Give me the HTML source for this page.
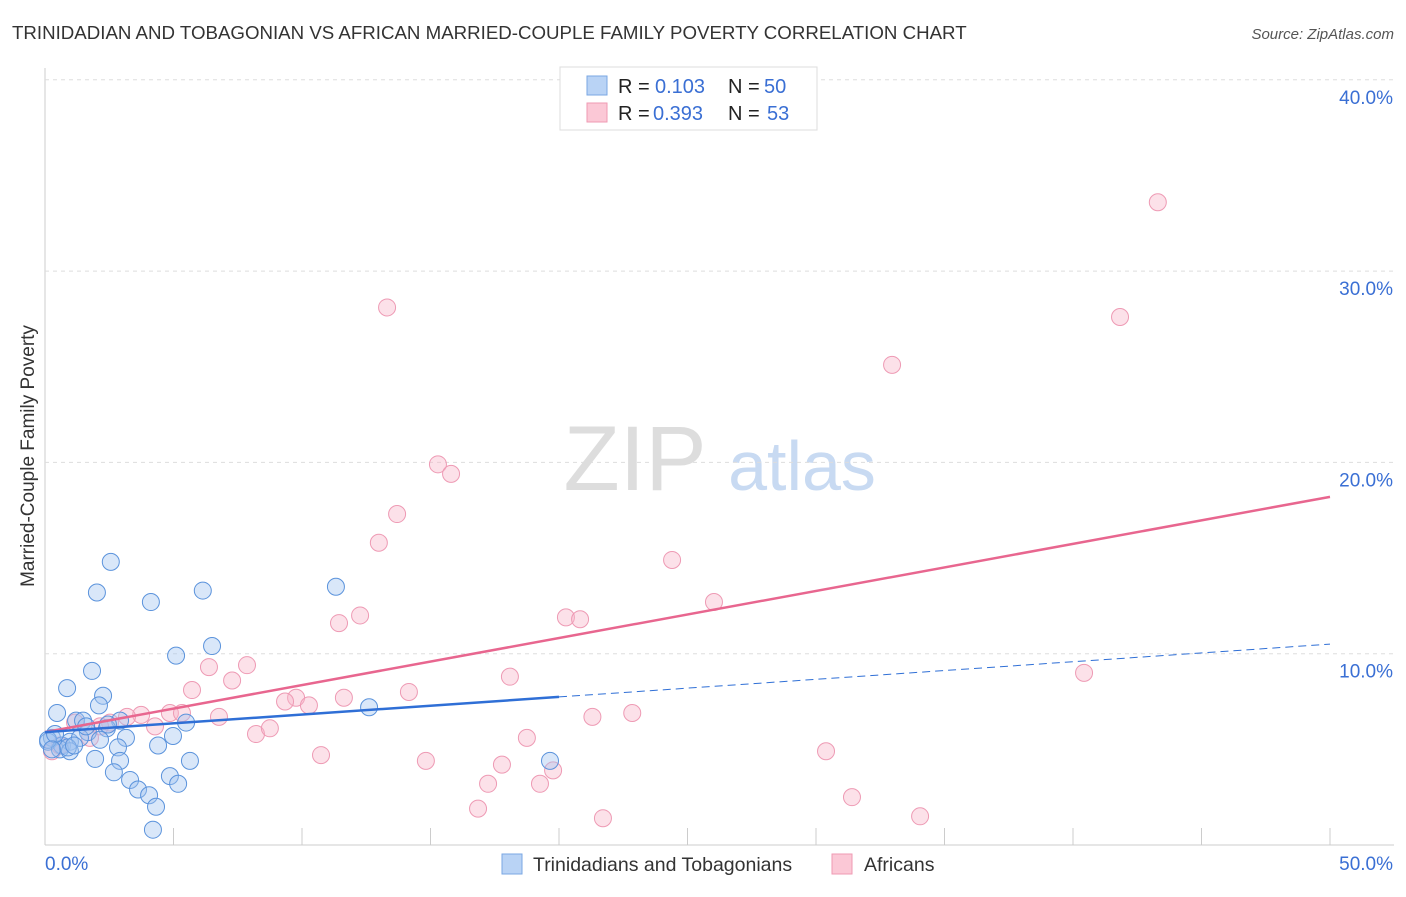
<!DOCTYPE html>
<html><head><meta charset="utf-8"><style>
body{margin:0;background:#fff;font-family:"Liberation Sans",sans-serif;}
svg text{font-family:"Liberation Sans",sans-serif;}
</style></head><body>
<svg id="chart" width="1406" height="892">
<text x="12" y="39" font-size="18.7" fill="#333">TRINIDADIAN AND TOBAGONIAN VS AFRICAN MARRIED-COUPLE FAMILY POVERTY CORRELATION CHART</text>
<text x="1394" y="39" font-size="15" fill="#555" font-style="italic" text-anchor="end">Source: ZipAtlas.com</text>
<text transform="translate(34,456) rotate(-90)" font-size="19" fill="#333" text-anchor="middle">Married-Couple Family Poverty</text>
<g><text x="635" y="490" font-size="92" fill="#ddd" font-family="Liberation Serif" text-anchor="middle">ZIP</text><text x="802" y="490" font-size="70" fill="#c8daf2" text-anchor="middle">atlas</text></g>
<g id="grid"></g><g id="marks"></g>
<g>
<rect x="560" y="67" width="257" height="63" fill="#fff" stroke="#ddd"/>
<rect x="587" y="76" width="20" height="19" fill="#b9d3f5" stroke="#7aa7e3"/>
<rect x="587" y="103" width="20" height="19" fill="#fbc8d6" stroke="#ef9ab3"/>
<text x="618" y="93" font-size="20" fill="#222">R = </text><text x="655" y="93" font-size="20" fill="#3a6fd4">0.103</text>
<text x="728" y="93" font-size="20" fill="#222">N = </text><text x="764" y="93" font-size="20" fill="#3a6fd4">50</text>
<text x="618" y="120" font-size="20" fill="#222">R = </text><text x="653" y="120" font-size="20" fill="#3a6fd4">0.393</text>
<text x="728" y="120" font-size="20" fill="#222">N = </text><text x="767" y="120" font-size="20" fill="#3a6fd4">53</text>
</g>
<g>
<rect x="502" y="854" width="20" height="20" fill="#b9d3f5" stroke="#7aa7e3"/>
<text x="533" y="871" font-size="19.5" fill="#333">Trinidadians and Tobagonians</text>
<rect x="832" y="854" width="20" height="20" fill="#fbc8d6" stroke="#ef9ab3"/>
<text x="864" y="871" font-size="19.5" fill="#333">Africans</text>
</g>
</svg>
<script>
const xTicks=[0,5,10,15,20,25,30,35,40,45,50];
const yTicks=[10,20,30,40];
const yTickLabels=["10.0%","20.0%","30.0%","40.0%"];
const blueX=[2.56,2.02,4.12,6.14,11.32,6.5,5.1,1.83,0.86,2.26,2.1,0.47,1.21,1.48,2.92,2.41,1.67,3.15,0.27,0.12,0.66,0.97,4.4,4.98,5.49,2.84,0.58,0.97,1.95,2.92,5.64,2.68,4.86,3.31,5.18,3.62,4.05,4.32,4.2,12.61,19.65,0.12,0.39,1.36,0.89,0.27,2.45,1.6,1.13,2.14];
const blueY=[14.8,13.2,12.7,13.3,13.5,10.4,9.9,9.1,8.2,7.8,7.3,6.9,6.5,6.5,6.5,6.1,5.9,5.6,5.6,5.4,5.2,5.4,5.2,5.7,6.4,5.1,5.0,4.9,4.5,4.4,4.4,3.8,3.6,3.4,3.2,2.9,2.6,2.0,0.8,7.2,4.4,5.5,5.8,5.6,5.1,5.0,6.3,6.2,5.2,5.5];
const pinkX=[43.3,13.31,41.83,32.96,15.29,15.8,13.7,12.99,24.4,26.03,12.26,11.44,20.27,20.82,7.86,6.38,7.28,5.72,9.77,9.34,10.27,11.63,14.16,18.09,40.43,4.86,5.33,3.74,6.77,3.19,2.53,4.28,21.3,22.85,8.21,8.75,18.75,10.74,30.39,14.82,17.78,19.77,17.24,19.26,31.4,16.85,21.71,34.05,1.17,1.75,0.27,0.58,2.14];
const pinkY=[33.6,28.1,27.6,25.1,19.9,19.4,17.3,15.8,14.9,12.7,12.0,11.6,11.9,11.8,9.4,9.3,8.6,8.1,7.7,7.5,7.3,7.7,8.0,8.8,9.0,6.9,6.9,6.8,6.7,6.7,6.4,6.2,6.7,6.9,5.8,6.1,5.6,4.7,4.9,4.4,4.2,3.9,3.2,3.2,2.5,1.9,1.4,1.5,6.4,5.6,4.9,5.2,6.2];
const blueTrend=[5.9,10.5];
const pinkTrend=[5.9,18.2];
const NS='http://www.w3.org/2000/svg';
const X=v=>45+v*25.7, Y=v=>845-v*19.13;
const grid=document.getElementById('grid'), marks=document.getElementById('marks');
function mk(tag,at,parent){const e=document.createElementNS(NS,tag);for(const k in at)e.setAttribute(k,at[k]);parent.appendChild(e);return e;}
let ax=mk('line',{x1:45,y1:68,x2:45,y2:845,stroke:'#ccc'},grid);


let bx=mk('line',{x1:45,y1:845,x2:1394,y2:845,stroke:'#ccc'},grid);


yTicks.forEach((t,i)=>{
 let g=mk('line',{x1:45,x2:1394,y1:Y(t),y2:Y(t),stroke:'#ddd','stroke-dasharray':'4,4'},grid);
 
 
 let l=mk('text',{x:1393,y:Y(t)+24,'font-size':19,fill:'#3a6fd4','text-anchor':'end'},grid);
 l.textContent=yTickLabels[i];
 
 
});
xTicks.forEach(t=>{
 let k=mk('line',{x1:X(t),x2:X(t),y1:828,y2:845,stroke:'#ccc'},grid);
 
 
});
let x0=mk('text',{x:45,y:870,'font-size':19,fill:'#3a6fd4'},grid);x0.textContent='0.0%';


let x1=mk('text',{x:1393,y:870,'font-size':19,fill:'#3a6fd4','text-anchor':'end'},grid);x1.textContent='50.0%';


pinkX.forEach((v,i)=>{
 let c=mk('circle',{cx:X(v),cy:Y(pinkY[i]),r:8.5,fill:'rgba(248,180,200,0.4)',stroke:'#ee9ab4','stroke-width':1},marks);
 
 
});
blueX.forEach((v,i)=>{
 let c=mk('circle',{cx:X(v),cy:Y(blueY[i]),r:8.5,fill:'rgba(160,195,240,0.4)',stroke:'#5b93dc','stroke-width':1},marks);
 
 
});
let pt=mk('line',{x1:X(0),y1:Y(pinkTrend[0]),x2:X(50),y2:Y(pinkTrend[1]),stroke:'#e8668f','stroke-width':2.5},marks);


const bAt=x=>blueTrend[0]+(blueTrend[1]-blueTrend[0])*x/50;
let bt=mk('line',{x1:X(0),y1:Y(bAt(0)),x2:X(20),y2:Y(bAt(20)),stroke:'#2f6fd6','stroke-width':2.5},marks);


let bd=mk('line',{x1:X(20),y1:Y(bAt(20)),x2:X(50),y2:Y(bAt(50)),stroke:'#2f6fd6','stroke-width':1,'stroke-dasharray':'8,5'},marks);


</script>
</body></html>
